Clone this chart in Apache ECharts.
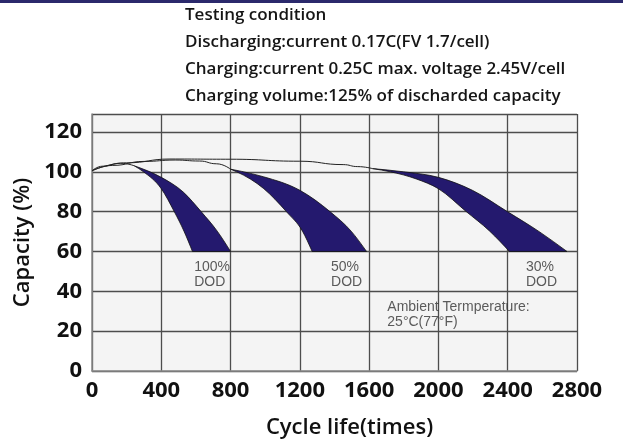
<!DOCTYPE html>
<html>
<head>
<meta charset="utf-8">
<script src="https://cdn.jsdelivr.net/npm/echarts@6/dist/echarts.min.js"></script>
<style>
html,body{margin:0;padding:0;background:#fff;}
#chart{width:623px;height:441px;}
</style>
</head>
<body>
<div id="chart"></div>
<script>
// ---- data ----
const xTicks = [0, 400, 800, 1200, 1600, 2000, 2400, 2800];
const yTicks = [0, 20, 40, 60, 80, 100, 120];
const headerLines = [
  'Testing condition',
  'Discharging:current 0.17C(FV 1.7/cell)',
  'Charging:current 0.25C max. voltage 2.45V/cell',
  'Charging volume:125% of discharded capacity'
];
// thin capacity lines before each decline band [cycles, capacity %]
const line100 = [[0,100.5],[60,102.8],[165,104.3],[244,103]];
const line50  = [[0,100.5],[120,103.2],[300,105.2],[480,105.9],[620,105.4],[720,104],[800,101.3]];
const line30  = [[0,100.5],[200,104.5],[450,106.4],[800,106.3],[1200,105.3],[1450,103.6],[1534,102.6],[1619,101.6]];
// decline bands: outer (upper/right) edge and inner (lower/left) edge
const dod100Outer = [[244,103],[400,97.2],[527,89.8],[630,80],[723,70.2],[800,60]];
const dod100Inner = [[244,103],[297,100],[400,91.5],[475,80],[531,70.2],[580,60]];
const dod50Outer  = [[800,101.3],[864,100.2],[990,97.5],[1200,90.7],[1374,80],[1496,70.2],[1585,60]];
const dod50Inner  = [[800,101.3],[835,100],[992,91.5],[1122,80],[1215,70.2],[1271,60]];
const dod30Outer  = [[1619,101.6],[1797,100],[2000,97.2],[2196,90.7],[2398,80],[2586,69.7],[2742,60]];
const dod30Inner  = [[1619,101.6],[1722,100],[1872,96.4],[2000,91.5],[2158,80.2],[2296,70.2],[2410,60]];
const bandLabels = [
  {text: '100%\nDOD', at: [590, 55.8]},
  {text: '50%\nDOD', at: [1380, 55.8]},
  {text: '30%\nDOD', at: [2505, 55.8]}
];
const ambientLabel = {text: 'Ambient Termperature:\n25°C(77°F)', at: [1705, 35.9]};

// ---- chart ----
const chart = echarts.init(document.getElementById('chart'), null, {renderer: 'canvas'});

// monotone cubic (x-monotone) bezier segments through pixel points
function monoSegs(pts) {
  const n = pts.length;
  const h = [], s = [];
  for (let i = 0; i < n - 1; i++) {
    h[i] = pts[i + 1][0] - pts[i][0];
    s[i] = (pts[i + 1][1] - pts[i][1]) / h[i];
  }
  const t = new Array(n);
  for (let i = 1; i < n - 1; i++) {
    const p = (s[i - 1] * h[i] + s[i] * h[i - 1]) / (h[i - 1] + h[i]);
    t[i] = (Math.sign(s[i - 1]) + Math.sign(s[i])) *
      Math.min(Math.abs(s[i - 1]), Math.abs(s[i]), 0.5 * Math.abs(p)) || 0;
  }
  t[0] = n > 2 ? (3 * s[0] - t[1]) / 2 : s[0];
  t[n - 1] = n > 2 ? (3 * s[n - 2] - t[n - 2]) / 2 : s[n - 2];
  const segs = [];
  for (let i = 0; i < n - 1; i++) {
    const d = h[i] / 3;
    segs.push([pts[i], [pts[i][0] + d, pts[i][1] + t[i] * d],
      [pts[i + 1][0] - d, pts[i + 1][1] - t[i + 1] * d], pts[i + 1]]);
  }
  return segs;
}
function segPath(segs) {
  return segs.map(g => ' C' + g[1][0] + ' ' + g[1][1] + ' ' + g[2][0] + ' ' + g[2][1] +
    ' ' + g[3][0] + ' ' + g[3][1]).join('');
}

function bandSeries(outer, inner) {
  return {
    type: 'custom',
    coordinateSystem: 'cartesian2d',
    silent: true,
    z: 3,
    data: outer.concat(inner),
    encode: {x: 0, y: 1},
    renderItem: function (params, api) {
      if (params.dataIndex !== 0) return null;
      const o = outer.map(p => api.coord(p));
      const inn = inner.map(p => api.coord(p));
      const oSegs = monoSegs(o);
      const iSegs = monoSegs(inn).reverse().map(g => [g[3], g[2], g[1], g[0]]);
      const last = inn[inn.length - 1];
      const d = 'M' + o[0][0] + ' ' + o[0][1] + segPath(oSegs) +
        ' L' + last[0] + ' ' + last[1] + segPath(iSegs) + ' Z';
      return {
        type: 'path',
        shape: {pathData: d},
        style: {fill: '#24196e', stroke: '#111', lineWidth: 0.8}
      };
    }
  };
}

function thinLine(data) {
  return {
    type: 'line',
    data: data,
    smooth: 0.5,
    smoothMonotone: 'x',
    symbol: 'none',
    silent: true,
    z: 4,
    lineStyle: {color: '#222', width: 1}
  };
}

function textSeries(items, fontSize, lineHeight) {
  return {
    type: 'scatter',
    symbolSize: 0,
    silent: true,
    z: 5,
    data: items.map(it => ({value: it.at, name: it.text})),
    label: {
      show: true,
      position: 'inside',
      align: 'left',
      verticalAlign: 'top',
      formatter: p => p.name,
      fontFamily: 'Liberation Sans, Arial, sans-serif',
      fontSize: fontSize,
      lineHeight: lineHeight,
      color: '#333'
    }
  };
}

const axisLabelFont = {fontFamily: 'Open Sans', fontWeight: 'bold', fontSize: 22, color: '#111'};

chart.setOption({
  animation: false,
  backgroundColor: '#ffffff',
  grid: {left: 92, right: 46, top: 114, bottom: 70, show: true, backgroundColor: '#f4f4f4', borderWidth: 0,
    containLabel: false, outerBoundsMode: 'none'},
  xAxis: {
    type: 'value', min: 0, max: 2800, interval: 400,
    name: 'Cycle life(times)', nameLocation: 'middle', nameGap: 46,
    nameTextStyle: {fontFamily: 'Open Sans', fontWeight: 600, fontSize: 22, color: '#111', padding: [0, 0, 0, 30]},
    axisLine: {show: true, lineStyle: {color: '#8a8a8a', width: 1.5}},
    axisTick: {show: false},
    axisLabel: Object.assign({margin: 9, formatter: v => (xTicks.indexOf(v) >= 0 ? String(v) : '')}, axisLabelFont),
    splitLine: {show: true, lineStyle: {color: '#4d4d4d', width: 1.3}}
  },
  yAxis: {
    type: 'value', min: 0, max: 129, interval: 20,
    name: 'Capacity (%)', nameLocation: 'middle', nameGap: 44,
    nameTextStyle: {fontFamily: 'Open Sans', fontWeight: 600, fontSize: 22, color: '#111'},
    axisLine: {show: true, lineStyle: {color: '#8a8a8a', width: 1.5}},
    axisTick: {show: false},
    axisLabel: Object.assign({margin: 10, formatter: v => (yTicks.indexOf(v) >= 0 ? String(v) : '')}, axisLabelFont),
    splitLine: {show: true, lineStyle: {color: '#4d4d4d', width: 1.3}}
  },
  graphic: [
    {type: 'rect', left: 0, top: 0, shape: {width: 623, height: 3}, style: {fill: '#2b296c'}, silent: true}
  ].concat(headerLines.map((t, i) => ({
    type: 'text', left: 185, top: 7 + i * 27,
    style: {text: t, fontFamily: 'Open Sans', fontWeight: 600, fontSize: 17, fill: '#151515'},
    silent: true
  }))),
  series: [
    bandSeries(dod100Outer, dod100Inner),
    bandSeries(dod50Outer, dod50Inner),
    bandSeries(dod30Outer, dod30Inner),
    thinLine(line100),
    thinLine(line50),
    thinLine(line30),
    textSeries(bandLabels, 14, 15),
    textSeries([ambientLabel], 14, 15)
  ]
});
</script>
</body>
</html>
